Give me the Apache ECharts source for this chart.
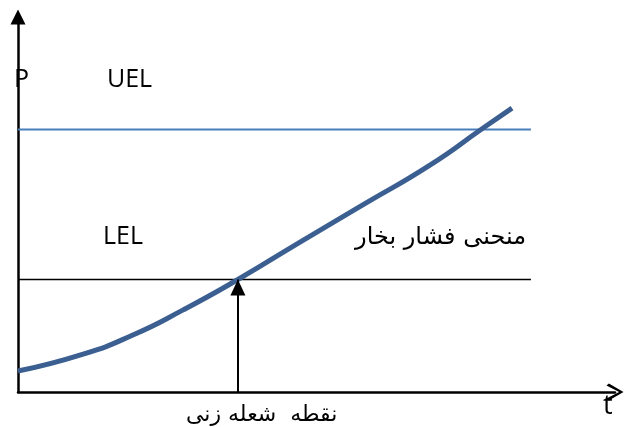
<!DOCTYPE html>
<html>
<head>
<meta charset="utf-8">
<script src="https://cdn.jsdelivr.net/npm/echarts@6/dist/echarts.min.js"></script>
<style>html,body{margin:0;padding:0;background:#fff}#c{width:625px;height:427px}</style>
</head>
<body>
<div id="c"></div>
<script>
// Data (t in arbitrary units, P in arbitrary units)
const curveT = [0, 1.31, 2.31, 3.32, 4.42, 5.61, 6.93, 8.28, 9.35, 9.93];
const curveP = [0.56, 1.01, 1.52, 2.19, 3.00, 3.95, 4.99, 6.05, 7.04, 7.57];
const limitNames = ['UEL', 'LEL'];
const limitValues = [7.0, 3.0];
const limitLineEnd = 10.31;
const flashPointT = 4.42;
const curveName = 'منحنی فشار بخار';
const flashPointName = 'نقطه  شعله زنی';

const chart = echarts.init(document.getElementById('c'), null, {renderer: 'canvas'});
const chevron = 'path://M50,0 L100,86 L88,100 L50,26 L12,100 L0,86 Z';
const curveData = curveT.map((t, i) => [t, curveP[i]]);

const option = {
  animation: false,
  grid: {left: 18, right: 10, top: 17, bottom: 35},
  xAxis: {
    type: 'value', min: 0, max: 12,
    axisLine: {show: true, onZero: false, symbol: ['none', chevron], symbolSize: [17, 18],
      lineStyle: {color: '#000', width: 2.5}},
    axisTick: {show: false}, axisLabel: {show: false}, splitLine: {show: false}
  },
  yAxis: {
    type: 'value', min: 0, max: 10,
    axisLine: {show: true, onZero: false, symbol: ['none', 'triangle'], symbolSize: [15, 15],
      lineStyle: {color: '#000', width: 2.5}},
    axisTick: {show: false}, axisLabel: {show: false}, splitLine: {show: false}
  },
  series: [
    {
      name: limitNames[0], type: 'line', symbol: 'none', silent: true,
      data: [[0, limitValues[0]], [limitLineEnd, limitValues[0]]],
      lineStyle: {color: '#4a7ebb', width: 2}, z: 2
    },
    {
      name: limitNames[1], type: 'line', symbol: 'none', silent: true,
      data: [[0, limitValues[1]], [limitLineEnd, limitValues[1]]],
      lineStyle: {color: '#000', width: 1.6}, z: 2,
      markLine: {
        silent: true, animation: false,
        symbol: ['none', 'triangle'], symbolSize: [15, 16],
        symbolOffset: [0, [0, 8]],
        label: {show: false},
        lineStyle: {color: '#000', width: 2, type: 'solid'},
        data: [[{coord: [flashPointT, 0]}, {coord: [flashPointT, limitValues[1]]}]]
      }
    },
    {
      name: curveName, type: 'line', symbol: 'none', smooth: 0.55, silent: true,
      data: curveData,
      lineStyle: {color: '#3b5f91', width: 5}, z: 3
    }
  ],
  graphic: [
    {type: 'text', left: 14, top: 67, style: {text: 'P', font: '25px "Open Sans"', fill: '#000'}},
    {type: 'text', left: 107, top: 67, style: {text: limitNames[0], font: '25px "Open Sans"', fill: '#000'}},
    {type: 'text', left: 103, top: 224, style: {text: limitNames[1], font: '25px "Open Sans"', fill: '#000'}},
    {type: 'text', right: 99, top: 226, style: {text: curveName, font: '24px "DejaVu Sans"', fill: '#000'}},
    {type: 'text', left: 186, top: 404, style: {text: flashPointName, font: '22px "DejaVu Sans"', fill: '#000'}},
    {type: 'text', left: 603, top: 393, style: {text: 't', font: '27px "Open Sans"', fill: '#000'}}
  ]
};
chart.setOption(option);
</script>
</body>
</html>
